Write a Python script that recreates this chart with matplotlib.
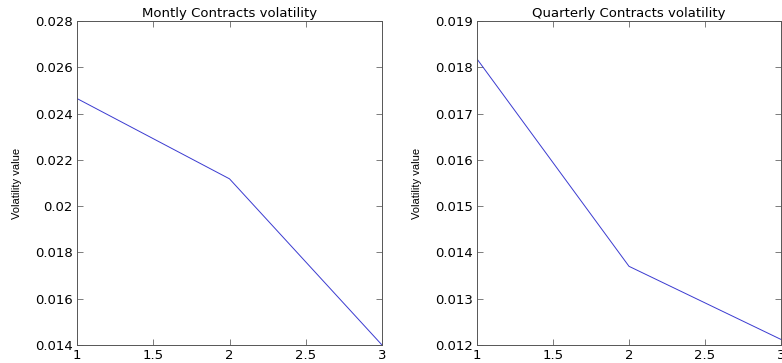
import matplotlib
matplotlib.use("Agg")
import matplotlib.pyplot as plt
from matplotlib import font_manager

# Contract maturities and measured volatilities
maturity = [1, 2, 3]
monthly_vol = [0.02465, 0.02118, 0.01400]
quarterly_vol = [0.01818, 0.01370, 0.01212]

monthly_yticks = [0.014, 0.016, 0.018, 0.020, 0.022, 0.024, 0.026, 0.028]
monthly_ylabels = ["0.014", "0.016", "0.018", "0.02", "0.022", "0.024", "0.026", "0.028"]
quarterly_yticks = [0.012, 0.013, 0.014, 0.015, 0.016, 0.017, 0.018, 0.019]
quarterly_ylabels = ["0.012", "0.013", "0.014", "0.015", "0.016", "0.017", "0.018", "0.019"]
xticks = [1, 1.5, 2, 2.5, 3]
xlabels = ["1", "1.5", "2", "2.5", "3"]

names = {f.name for f in font_manager.fontManager.ttflist}
narrow = "Liberation Sans Narrow" if "Liberation Sans Narrow" in names else "Liberation Sans"
plt.rcParams["font.family"] = ["DejaVu Sans"]

fig = plt.figure(figsize=(7.82, 3.63), dpi=100)
W, H = 782.0, 363.0


def make_axes(x0, x1, y0, y1):
    return fig.add_axes([x0 / W, 1 - y1 / H, (x1 - x0) / W, (y1 - y0) / H])


panels = [
    (make_axes(77, 382, 21, 345), monthly_vol, monthly_yticks, monthly_ylabels,
     (0.014, 0.028), "Montly Contracts volatility"),
    (make_axes(477, 781, 21, 345), quarterly_vol, quarterly_yticks, quarterly_ylabels,
     (0.012, 0.019), "Quarterly Contracts volatility"),
]

for ax, vals, yt, yl, ylim, title in panels:
    ax.plot(maturity, vals, color="#3a3ad0", lw=0.7)
    ax.set_xlim(1, 3)
    ax.set_ylim(*ylim)
    ax.set_xticks(xticks)
    ax.set_xticklabels(xlabels)
    ax.set_yticks(yt)
    ax.set_yticklabels(yl)
    ax.tick_params(direction="in", length=4, width=0.6, color="#666666",
                   top=True, right=True, labelsize=9.5, pad=3)
    for s in ax.spines.values():
        s.set_color("#555555")
        s.set_linewidth(0.7)
    ax.set_title(title, fontsize=9.5, pad=3)
    ax.set_ylabel("Volatility value", fontsize=8, family=[narrow, "DejaVu Sans"])
    ax.yaxis.set_label_coords(-0.18, 0.5)

fig.savefig("out.png", dpi=100)
